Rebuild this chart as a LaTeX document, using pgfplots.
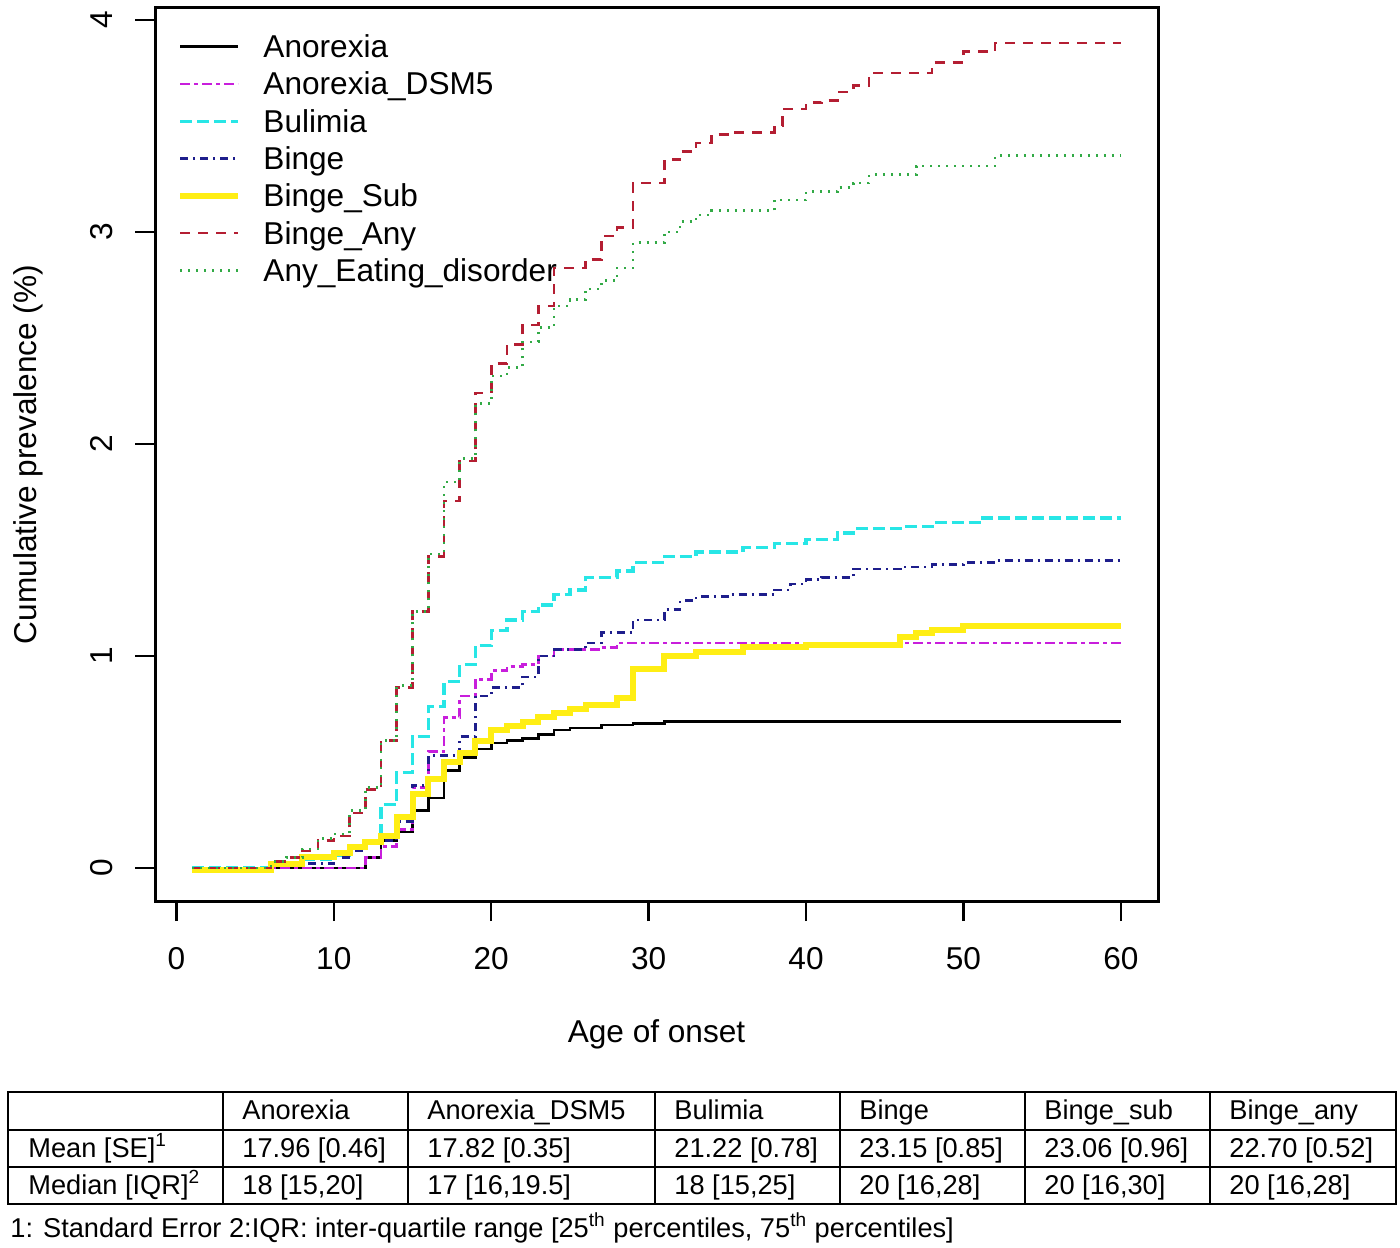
\documentclass[border=0pt]{standalone}
\usepackage{pgfplots}
\pgfplotsset{compat=1.18}
\usepackage{fontspec}
\setmainfont{Liberation Sans}
\definecolor{cAno}{RGB}{0,0,0}
\definecolor{cDsm}{RGB}{200,30,220}
\definecolor{cBul}{RGB}{40,230,230}
\definecolor{cBin}{RGB}{30,30,140}
\definecolor{cSub}{RGB}{255,238,20}
\definecolor{cAny}{RGB}{180,30,50}
\definecolor{cEat}{RGB}{50,170,70}
\begin{document}
\begin{tikzpicture}
\useasboundingbox (0,0) rectangle (700pt,623.5pt);
\begin{axis}[
  at={(77.5pt,173pt)}, anchor=south west,
  scale only axis, width=501.5pt, height=446.5pt,
  xmin=-1.36, xmax=62.36, ymin=-0.156, ymax=4.056,
  xtick={0,10,20,30,40,50,60}, ytick={0,1,2,3,4},
  tick align=outside, major tick length=10pt,
  xtick pos=bottom, ytick pos=left,
  axis line style={line width=1.5pt},
  every tick/.style={black, line width=1.2pt},
  /pgf/number format/assume math mode=true,
  font=\fontsize{15.8}{18}\selectfont,
  xticklabel style={anchor=base, yshift=-24pt},
  yticklabel style={rotate=90, anchor=base, yshift=11.5pt},
  xlabel={Age of onset},
  ylabel={Cumulative prevalence (\%)},
  xlabel style={anchor=base, at={(axis description cs:0.5,0)}, yshift=-70.5pt},
  ylabel style={anchor=base, at={(axis description cs:0,0.5)}, yshift=59pt},
  legend style={draw=none, fill=none, inner sep=0pt, row sep=0pt,
    at={(axis description cs:0.022,0.978)}, anchor=north west,
    nodes={inner sep=0pt, anchor=west, text height=14.8pt, text depth=3.85pt}},
  legend cell align=left,
  legend image code/.code={\draw[#1] (0pt,0pt) -- (29pt,0pt); \path[draw=none] (0pt,0pt) -- (41.5pt,0pt);},
  every axis plot/.append style={const plot, line width=1.3pt},
]
\addplot[cAno, solid] coordinates {(1,0) (12,0.05) (13,0.13) (14,0.17) (15,0.27) (16,0.33) (17,0.46) (18,0.52) (19,0.56) (20,0.59) (21,0.60) (22,0.61) (23,0.63) (24,0.65) (25,0.66) (27,0.675) (29,0.68) (31,0.69) (60,0.69)};
\addlegendentry{Anorexia}
\addplot[cDsm, dash pattern=on 5pt off 2pt on 2pt off 2pt] coordinates {(1,0) (12,0.05) (13,0.10) (14,0.18) (15,0.38) (16,0.55) (17,0.71) (18,0.81) (19,0.89) (20,0.93) (21,0.95) (22,0.96) (23,1.0) (24,1.03) (27,1.04) (28,1.06) (60,1.06)};
\addlegendentry{Anorexia\_DSM5}
\addplot[cBul, line width=1.7pt, dash pattern=on 6pt off 2.5pt] coordinates {(1,0) (6,0.02) (8,0.04) (10,0.06) (11,0.10) (12,0.13) (13,0.30) (14,0.45) (15,0.62) (16,0.76) (17,0.88) (18,0.96) (19,1.05) (20,1.12) (21,1.17) (22,1.21) (23,1.24) (24,1.29) (25,1.31) (26,1.37) (28,1.40) (29,1.44) (31,1.47) (33,1.49) (36,1.51) (38,1.53) (40,1.55) (42,1.58) (43,1.60) (46,1.61) (48,1.63) (51,1.65) (60,1.65)};
\addlegendentry{Bulimia}
\addplot[cBin, dash pattern=on 4pt off 2.5pt on 1pt off 2.5pt] coordinates {(1,0) (6,0.02) (10,0.05) (11,0.08) (12,0.13) (14,0.22) (15,0.39) (16,0.53) (18,0.62) (19,0.81) (20,0.85) (22,0.90) (23,1.0) (24,1.03) (26,1.06) (27,1.11) (29,1.17) (31,1.22) (32,1.26) (33,1.28) (35,1.29) (38,1.31) (39,1.34) (40,1.36) (41,1.37) (43,1.41) (46,1.42) (48,1.43) (50,1.44) (52,1.45) (60,1.45)};
\addlegendentry{Binge}
\addplot[cSub, solid, line width=3pt] coordinates {(1,-0.01) (6,0.02) (8,0.05) (10,0.07) (11,0.10) (12,0.12) (13,0.15) (14,0.24) (15,0.35) (16,0.42) (17,0.50) (18,0.54) (19,0.60) (20,0.65) (21,0.67) (22,0.69) (23,0.71) (24,0.73) (25,0.75) (26,0.77) (28,0.80) (29,0.94) (31,1.0) (33,1.02) (36,1.04) (40,1.05) (46,1.09) (47,1.11) (48,1.12) (50,1.14) (60,1.14)};
\addlegendentry{Binge\_Sub}
\addplot[cAny, dash pattern=on 5pt off 4pt] coordinates {(1,0) (6,0.03) (7,0.05) (8,0.08) (9,0.13) (10,0.15) (11,0.26) (12,0.37) (13,0.60) (14,0.85) (15,1.21) (16,1.47) (17,1.73) (18,1.92) (19,2.24) (20,2.38) (21,2.47) (22,2.56) (23,2.65) (24,2.83) (26,2.87) (27,2.98) (28,3.02) (29,3.23) (31,3.34) (32,3.38) (33,3.42) (34,3.46) (35,3.47) (38,3.50) (38.5,3.58) (40,3.61) (41,3.62) (42,3.66) (43,3.69) (44,3.75) (48,3.80) (50,3.85) (52,3.89) (60,3.89)};
\addlegendentry{Binge\_Any}
\addplot[cEat, dash pattern=on 1pt off 3pt] coordinates {(1,0) (6,0.03) (7,0.05) (8,0.09) (9,0.14) (10,0.16) (11,0.27) (12,0.38) (13,0.60) (14,0.86) (15,1.21) (16,1.48) (17,1.82) (18,1.93) (19,2.19) (20,2.32) (21,2.36) (22,2.48) (23,2.55) (24,2.65) (25,2.68) (26,2.73) (27,2.77) (28,2.83) (29,2.95) (31,3.00) (32,3.05) (33,3.08) (34,3.10) (38,3.15) (40,3.19) (42,3.21) (43,3.23) (44,3.27) (47,3.31) (52,3.36) (60,3.36)};
\addlegendentry{Any\_Eating\_disorder}
\end{axis}
\begin{scope}[x=0.5pt, y=-0.5pt, shift={(0pt,623.5pt)}, font=\fontsize{13.6}{16}\selectfont]
  \draw[line width=1pt] (8,1092) rectangle (1396,1204);
  \draw[line width=1pt] (8,1130) -- (1396,1130) (8,1167) -- (1396,1167);
  \foreach \c in {223,408,655,840,1025,1210} \draw[line width=1pt] (\c,1092) -- (\c,1204);
  \foreach \c/\t in {242/Anorexia, 427/Anorexia\_DSM5, 674/Bulimia, 859/Binge, 1044/Binge\_sub, 1229/Binge\_any}
    \node[anchor=base west, inner sep=0pt] at (\c,1119) {\t};
  \node[anchor=base west, inner sep=0pt] at (28,1157) {Mean [SE]\textsuperscript{1}};
  \node[anchor=base west, inner sep=0pt] at (28,1194) {Median [IQR]\textsuperscript{2}};
  \foreach \c/\t in {242/{17.96 [0.46]}, 427/{17.82 [0.35]}, 674/{21.22 [0.78]}, 859/{23.15 [0.85]}, 1044/{23.06 [0.96]}, 1229/{22.70 [0.52]}}
    \node[anchor=base west, inner sep=0pt] at (\c,1157) {\t};
  \foreach \c/\t in {242/{18 [15,20]}, 427/{17 [16,19.5]}, 674/{18 [15,25]}, 859/{20 [16,28]}, 1044/{20 [16,30]}, 1229/{20 [16,28]}}
    \node[anchor=base west, inner sep=0pt] at (\c,1194) {\t};
  \node[anchor=base west, inner sep=0pt] at (10,1237) {1: Standard Error 2:IQR: inter-quartile range [25\textsuperscript{th} percentiles, 75\textsuperscript{th} percentiles]};
\end{scope}
\end{tikzpicture}
\end{document}
